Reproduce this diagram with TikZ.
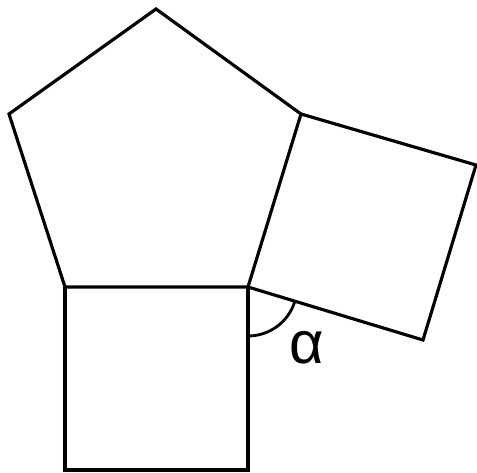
\documentclass[tikz,border=0pt]{standalone}
\usepackage{fontspec}
\setmainfont{Liberation Sans}
\usepackage{tikz}
\usetikzlibrary{calc}
\tikzset{
  edge/.style={draw=black, line width=1.8pt, line join=miter},
  anglearc/.style={draw=black, line width=1.6pt},
  anglelabel/.style={font=\fontsize{34}{36}\selectfont, inner sep=0pt},
}
\begin{document}
\begin{tikzpicture}[x=0.02cm, y=-0.02cm]
\useasboundingbox (0,0) rectangle (477,473);

% Pentagon
\coordinate (pa) at (65,287);
\coordinate (pb) at (248,287);
\coordinate (pc) at (301,114);
\coordinate (pd) at (156,9);
\coordinate (pe) at (9,114);
\draw[edge] (pa) -- (pb) -- (pc) -- (pd) -- (pe) -- cycle;

% Square below
\coordinate (sa) at (65,470);
\coordinate (sb) at (248,470);
\draw[edge] (pa) -- (sa) -- (sb) -- (pb);

% Square on the right
\coordinate (ra) at (423,340);
\coordinate (rb) at (476,165);
\draw[edge] (pb) -- (ra) -- (rb) -- (pc);

% Angle
\draw[anglearc] ($(pb)+(0,49)$) arc[start angle=90, end angle=17, radius=49];
\node[anglelabel] (alpha) at (307,348) {α};

\end{tikzpicture}
\end{document}
